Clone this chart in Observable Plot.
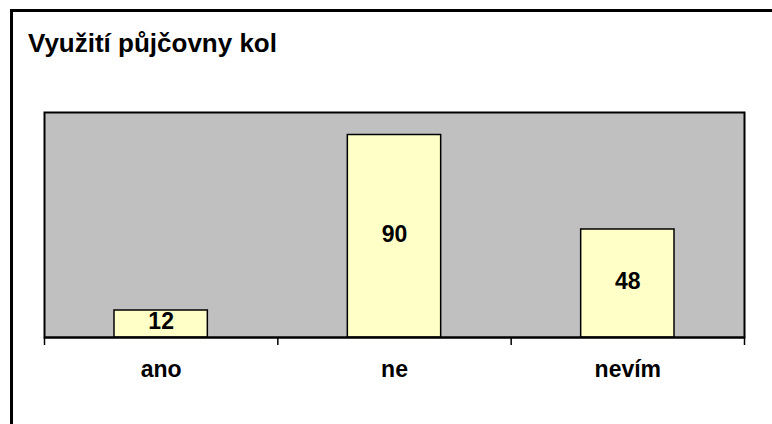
<!DOCTYPE html>
<html>
<head>
<meta charset="utf-8">
<script src="https://cdn.jsdelivr.net/npm/d3@7"></script>
<script src="https://cdn.jsdelivr.net/npm/@observablehq/plot@0.6"></script>
<style>
  html, body { margin: 0; padding: 0; background: #fff; overflow: hidden; width: 772px; height: 424px; }
  #frame { position: absolute; left: 10px; top: 9px; width: 900px; height: 600px; border-left: 3px solid #000; border-top: 3px solid #000; box-sizing: border-box; }
  #title { position: absolute; left: 28px; top: 30px; font: bold 26px/26px "Liberation Sans", Arial, sans-serif; color: #000; white-space: nowrap; }
  #chart { position: absolute; left: 0; top: 0; }
</style>
</head>
<body>
<div id="frame"></div>
<div id="title">Využití půjčovny kol</div>
<div id="chart"></div>
<script>
const categories = ["ano", "ne", "nevím"];
const values = [12, 90, 48];
const boundaries = [0, 1, 2, 3];

const data = categories.map((c, i) => ({ category: c, index: i, value: values[i] }));
const font = '"Liberation Sans", Arial, sans-serif';

const chart = Plot.plot({
  width: 772,
  height: 424,
  marginLeft: 44,
  marginRight: 28,
  marginTop: 112,
  marginBottom: 87,
  style: { background: "transparent", fontFamily: font },
  x: { type: "linear", domain: [0, 3], axis: null },
  y: { domain: [0, 100], axis: null },
  marks: [
    Plot.frame({ fill: "#c0c0c0", stroke: "#000", strokeWidth: 2 }),
    Plot.rectY(data, {
      x1: d => d.index + 0.3,
      x2: d => d.index + 0.7,
      y: "value",
      fill: "#ffffc8",
      stroke: "#000",
      strokeWidth: 1.5
    }),
    Plot.text(data, {
      x: d => d.index + 0.5,
      y: d => d.value / 2,
      text: d => String(d.value),
      fontSize: 23,
      fontWeight: "bold",
      fill: "#000",
      dy: -2
    }),
    Plot.ruleY([0], { stroke: "#000", strokeWidth: 2 }),
    Plot.axisX(boundaries, { tickSize: 8, tickFormat: () => "", stroke: "#000", strokeWidth: 1.5 }),
    Plot.text(data, {
      x: d => d.index + 0.5,
      frameAnchor: "bottom",
      text: "category",
      dy: 39,
      fontSize: 23,
      fontWeight: "bold",
      fill: "#000"
    })
  ]
});
document.getElementById("chart").appendChild(chart);
</script>
</body>
</html>
